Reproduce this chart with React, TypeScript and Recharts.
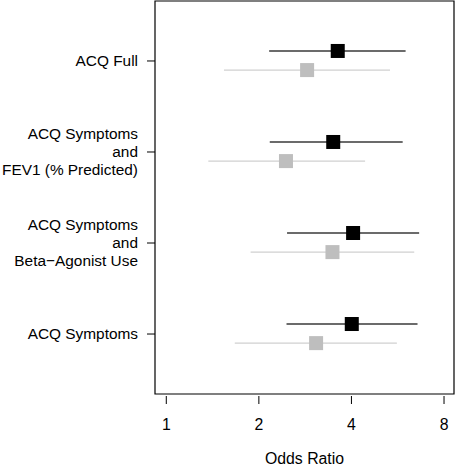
import React from "react"
import {
  ScatterChart,
  Scatter,
  XAxis,
  YAxis,
  ErrorBar,
  ReferenceArea,
} from "recharts"

// models, top to bottom
const models = [
  ["ACQ Full"],
  ["ACQ Symptoms", "and", "FEV1 (% Predicted)"],
  ["ACQ Symptoms", "and", "Beta\u2212Agonist Use"],
  ["ACQ Symptoms"],
]

// black estimates
const darkOR = [3.61, 3.49, 4.05, 4.01]
const darkLo = [2.16, 2.17, 2.47, 2.46]
const darkHi = [6.0, 5.87, 6.64, 6.56]

// grey estimates
const lightOR = [2.87, 2.45, 3.47, 3.07]
const lightLo = [1.54, 1.37, 1.88, 1.67]
const lightHi = [5.34, 4.43, 6.4, 5.62]

const xTicks = [1, 2, 4, 8]
const xDomain: [number, number] = [0.919, 8.62]
const yDomain: [number, number] = [0.341, 4.659]

const FONT = "'Liberation Sans', Arial, Helvetica, sans-serif"
const FS = 15.8
const YFS = 15.4

const rowY = (i: number) => models.length - i

const build = (or: number[], lo: number[], hi: number[], shift: number) =>
  or.map((v, i) => ({
    or: v,
    y: rowY(i) + shift,
    err: [v - lo[i], hi[i] - v],
  }))

const darkData = build(darkOR, darkLo, darkHi, 0.11)
const lightData = build(lightOR, lightLo, lightHi, -0.1)

function square(fill: string) {
  return (p: any) => (
    <rect x={p.cx - 7} y={p.cy - 7} width={14} height={14} fill={fill} />
  )
}

function XTick({ x, y, payload }: any) {
  return (
    <g>
      <line x1={x} x2={x} y1={y + 2} y2={y + 10} stroke="#000" strokeWidth={1} />
      <text x={x} y={y + 30} textAnchor="middle" dy="0.35em" fontSize={FS} fontFamily={FONT} fill="#000">
        {payload.value}
      </text>
    </g>
  )
}

function YTick({ x, y, payload }: any) {
  const lines = models[models.length - payload.value] || []
  const start = -((lines.length - 1) * 18) / 2
  return (
    <g>
      <line x1={x - 8} x2={x} y1={y} y2={y} stroke="#000" strokeWidth={1} />
      {lines.map((l, k) => (
        <text
          key={k}
          x={x - 17}
          y={y + start + k * 18}
          textAnchor="end"
          dy="0.35em"
          fontSize={YFS}
          fontFamily={FONT}
          fill="#000"
        >
          {l}
        </text>
      ))}
    </g>
  )
}

export default function App() {
  return (
    <div style={{ width: 456, height: 466, background: "#fff", fontFamily: FONT }}>
      <style>{`body{margin:0}`}</style>
      <ScatterChart
        width={456}
        height={466}
        margin={{ top: 1, right: 2, left: 0, bottom: 0 }}
      >
        <XAxis
          type="number"
          dataKey="or"
          scale="log"
          domain={xDomain}
          ticks={xTicks}
          allowDataOverflow
          axisLine={false}
          tickLine={false}
          tickSize={0}
          tickMargin={0}
          height={72}
          tick={<XTick />}
          label={{
            value: "Odds Ratio",
            position: "insideBottom",
            offset: 2,
            fontSize: FS,
            fontFamily: FONT,
            fill: "#000",
          }}
        />
        <YAxis
          type="number"
          dataKey="y"
          domain={yDomain}
          ticks={[1, 2, 3, 4]}
          allowDataOverflow
          axisLine={false}
          tickLine={false}
          tickSize={0}
          tickMargin={0}
          width={155}
          tick={<YTick />}
        />
        <ReferenceArea
          x1={xDomain[0]}
          x2={xDomain[1]}
          y1={yDomain[0]}
          y2={yDomain[1]}
          fill="none"
          stroke="#000"
          strokeWidth={1.2}
          ifOverflow="visible"
        />
        <Scatter data={lightData} shape={square("#bebebe")} isAnimationActive={false}>
          <ErrorBar dataKey="err" direction="x" width={0} stroke="#d0d0d0" strokeWidth={1.4} />
        </Scatter>
        <Scatter data={darkData} shape={square("#000")} isAnimationActive={false}>
          <ErrorBar dataKey="err" direction="x" width={0} stroke="#3a3a3a" strokeWidth={1.4} />
        </Scatter>
      </ScatterChart>
    </div>
  )
}
